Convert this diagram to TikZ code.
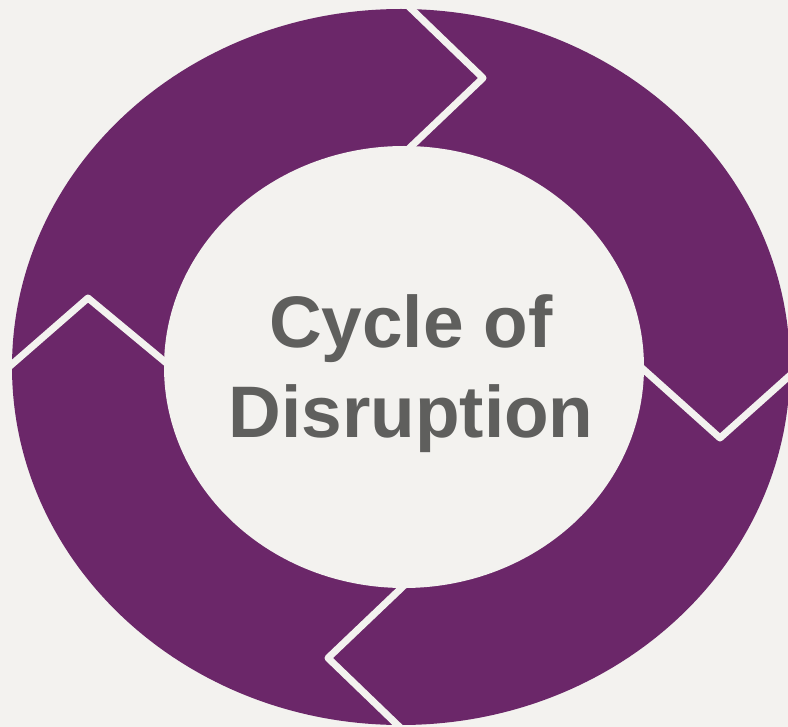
\documentclass[tikz,border=0pt]{standalone}
\usepackage{fontspec}
\setmainfont{Liberation Sans}
\definecolor{bg}{HTML}{F3F2EF}
\definecolor{ring}{HTML}{6B2769}
\definecolor{txt}{HTML}{5F5F5D}
\begin{document}
\begin{tikzpicture}[x=1pt,y=-1pt,
  gap/.style={draw=bg,line width=7pt,line join=round,line cap=butt},
  title/.style={font=\bfseries\fontsize{73}{90}\selectfont,text=txt,anchor=base,inner sep=0pt}]
\fill[bg] (0,0) rectangle (788,727);
\useasboundingbox (0,0) rectangle (788,727);
\fill[ring] (401,367) ellipse [x radius=389pt, y radius=358pt];
\fill[bg] (404,367) ellipse [x radius=240pt, y radius=221pt];
% chevron gaps
\coordinate (t1) at (400,-2);
\coordinate (t2) at (483,78);
\coordinate (t3) at (399,158);
\coordinate (l1) at (2,373);
\coordinate (l2) at (88,298);
\coordinate (l3) at (176,371);
\coordinate (r1) at (633,360);
\coordinate (r2) at (720,438);
\coordinate (r3) at (806,361);
\coordinate (b1) at (413,577);
\coordinate (b2) at (328,658);
\coordinate (b3) at (410,737);
\draw[gap] (t1) -- (t2) -- (t3);
\draw[gap] (l1) -- (l2) -- (l3);
\draw[gap] (r1) -- (r2) -- (r3);
\draw[gap] (b1) -- (b2) -- (b3);
\node[title] (line1) at (411,348) {Cycle of};
\node[title] (line2) at (411,438) {Disruption};
\end{tikzpicture}
\end{document}
